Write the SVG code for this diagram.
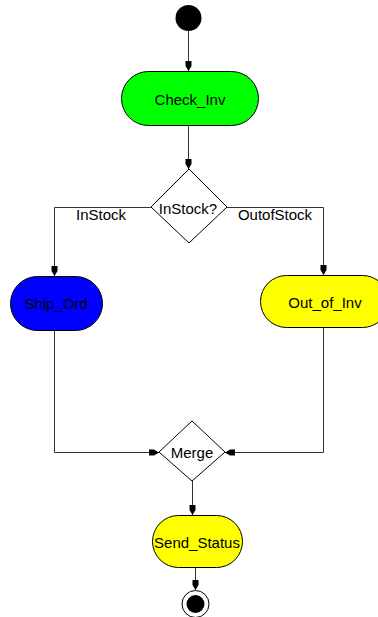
<svg xmlns="http://www.w3.org/2000/svg" width="378" height="617" viewBox="0 0 378 617">
<defs>
<style>
.node{stroke:#000;stroke-width:1}
.lbl{font-family:"Liberation Sans",Arial,sans-serif;font-size:15px;fill:#000;text-anchor:middle}
.edge{fill:none;stroke:#333;stroke-width:1}
</style>
<marker id="arr" viewBox="0 0 10 8" refX="10" refY="4" markerWidth="10" markerHeight="8" markerUnits="userSpaceOnUse" orient="auto">
<path d="M0,1 L5,1 L10,4 L5,7 L0,7 z" fill="#000"/>
</marker>
</defs>
<rect width="378" height="617" fill="#fff"/>
<g id="connectors">
<path class="edge" d="M188.5,31 V71" marker-end="url(#arr)"/>
<path class="edge" d="M188.5,125 V169" marker-end="url(#arr)"/>
<path class="edge" d="M151,207.5 H54.5 V276" marker-end="url(#arr)"/>
<path class="edge" d="M227,207.5 H323.5 V275" marker-end="url(#arr)"/>
<path class="edge" d="M54.5,331 V452.5 H159" marker-end="url(#arr)"/>
<path class="edge" d="M323.5,327 V452.5 H225" marker-end="url(#arr)"/>
<path class="edge" d="M192.5,481 V515" marker-end="url(#arr)"/>
<path class="edge" d="M195.5,568 V590" marker-end="url(#arr)"/>
<text class="lbl" x="101" y="220">InStock</text>
<text class="lbl" x="275" y="220">OutofStock</text>
</g>
<g id="start"><circle cx="188.5" cy="18" r="13" fill="#000"/></g>
<g id="Check_Inv">
<rect class="node" x="121.5" y="71.5" width="137" height="54" rx="27" ry="27" fill="#00ff00"/>
<text class="lbl" x="190" y="105">Check_Inv</text>
</g>
<g id="InStock">
<polygon class="node" points="189,169 227,207 189,243 151,207" fill="#fff"/>
<text class="lbl" x="188" y="214">InStock?</text>
</g>
<g id="Ship_Ord">
<rect class="node" x="10.5" y="276.5" width="92" height="54" rx="27" ry="27" fill="#0000ff"/>
<text class="lbl" x="56" y="309">Ship_Ord</text>
</g>
<g id="Out_of_Inv">
<rect class="node" x="260.5" y="275.5" width="128" height="52" rx="26" ry="26" fill="#ffff00"/>
<text class="lbl" x="325" y="308">Out_of_Inv</text>
</g>
<g id="Merge">
<polygon class="node" points="192,421 225,452 192,481 159,452" fill="#fff"/>
<text class="lbl" x="192" y="458">Merge</text>
</g>
<g id="Send_Status">
<rect class="node" x="152.5" y="515.5" width="90" height="52" rx="26" ry="26" fill="#ffff00"/>
<text class="lbl" x="197" y="548">Send_Status</text>
</g>
<g id="end">
<circle cx="195.5" cy="604" r="13.5" fill="#fff" stroke="#000" stroke-width="1"/>
<circle cx="195.5" cy="604" r="9" fill="#000"/>
</g>
</svg>
